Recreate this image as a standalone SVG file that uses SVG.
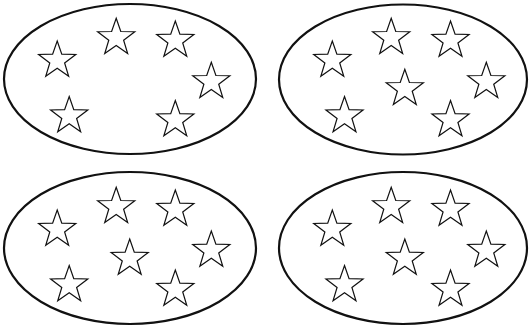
<svg xmlns="http://www.w3.org/2000/svg" xmlns:xlink="http://www.w3.org/1999/xlink" width="529" height="328" viewBox="0 0 529 328">
<style>
.set{fill:#fff;stroke:#111;stroke-width:2.2}
.star{fill:#fff;stroke:#111;stroke-width:1.2;stroke-linejoin:miter}
</style>
<defs>
<polygon id="st" points="0,-19.5 4.58,-6.31 18.55,-6.03 7.42,2.41 11.46,15.78 0,7.8 -11.46,15.78 -7.42,2.41 -18.55,-6.03 -4.58,-6.31"/>
</defs>
<rect width="529" height="328" fill="#fff"/>
<g id="set1">
<ellipse class="set" cx="130" cy="79" rx="126" ry="75"/>
<use xlink:href="#st" class="star" x="57.2" y="60.5"/>
<use xlink:href="#st" class="star" x="116.2" y="37.8"/>
<use xlink:href="#st" class="star" x="175.3" y="40.5"/>
<use xlink:href="#st" class="star" x="211.3" y="81.8"/>
<use xlink:href="#st" class="star" x="69.2" y="116"/>
<use xlink:href="#st" class="star" x="175.3" y="120"/>
</g>
<g id="set2">
<ellipse class="set" cx="403" cy="79.5" rx="124" ry="75"/>
<use xlink:href="#st" class="star" x="332.3" y="60.5"/>
<use xlink:href="#st" class="star" x="391.2" y="37.8"/>
<use xlink:href="#st" class="star" x="450.5" y="40.5"/>
<use xlink:href="#st" class="star" x="486.3" y="81.8"/>
<use xlink:href="#st" class="star" x="404.8" y="88.8"/>
<use xlink:href="#st" class="star" x="344.5" y="116"/>
<use xlink:href="#st" class="star" x="450.5" y="120"/>
</g>
<g id="set3">
<ellipse class="set" cx="130" cy="248" rx="126" ry="76"/>
<use xlink:href="#st" class="star" x="57.2" y="229.5"/>
<use xlink:href="#st" class="star" x="116.2" y="206.8"/>
<use xlink:href="#st" class="star" x="175.3" y="209.5"/>
<use xlink:href="#st" class="star" x="211.3" y="250.5"/>
<use xlink:href="#st" class="star" x="129.7" y="258.5"/>
<use xlink:href="#st" class="star" x="69.2" y="285"/>
<use xlink:href="#st" class="star" x="175.3" y="289.5"/>
</g>
<g id="set4">
<ellipse class="set" cx="403" cy="248" rx="124" ry="76"/>
<use xlink:href="#st" class="star" x="332.3" y="229.5"/>
<use xlink:href="#st" class="star" x="391.2" y="206.8"/>
<use xlink:href="#st" class="star" x="450.5" y="209.5"/>
<use xlink:href="#st" class="star" x="486.3" y="250.5"/>
<use xlink:href="#st" class="star" x="404.8" y="258.5"/>
<use xlink:href="#st" class="star" x="344.5" y="285"/>
<use xlink:href="#st" class="star" x="450.5" y="289.5"/>
</g>
<g id="connectors"/>
</svg>
